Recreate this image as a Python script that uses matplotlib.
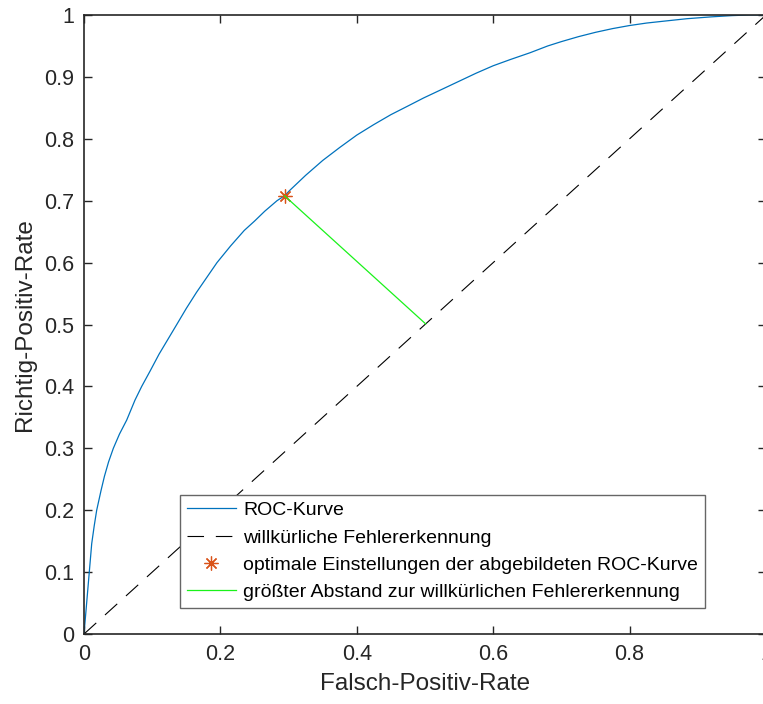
import numpy as np
import matplotlib.pyplot as plt

plt.rcParams['font.family'] = ['Liberation Sans', 'DejaVu Sans']
plt.rcParams['lines.scale_dashes'] = False

# ROC curve
fpr = [0.0, 0.0113, 0.015, 0.0186, 0.025, 0.030, 0.036, 0.043, 0.052, 0.0626,
       0.0748, 0.0846, 0.097, 0.110, 0.123, 0.136, 0.150, 0.165, 0.180, 0.195,
       0.215, 0.235, 0.250, 0.265, 0.283, 0.294, 0.302, 0.325, 0.350, 0.375,
       0.400, 0.425, 0.450, 0.475, 0.498, 0.525, 0.550, 0.575, 0.600, 0.625,
       0.654, 0.680, 0.700, 0.725, 0.750, 0.775, 0.800, 0.825, 0.850, 0.884,
       0.920, 0.950, 0.975, 1.0]
tpr = [0.0, 0.146, 0.175, 0.200, 0.232, 0.255, 0.278, 0.300, 0.323, 0.3456,
       0.378, 0.400, 0.425, 0.452, 0.476, 0.500, 0.526, 0.552, 0.576, 0.600,
       0.627, 0.652, 0.667, 0.683, 0.700, 0.708, 0.717, 0.741, 0.765, 0.786,
       0.806, 0.823, 0.839, 0.853, 0.866, 0.880, 0.893, 0.906, 0.918, 0.928,
       0.939, 0.950, 0.957, 0.965, 0.972, 0.978, 0.983, 0.987, 0.990, 0.994,
       0.997, 0.999, 1.0, 1.0]

# optimal point and its projection onto the diagonal
opt_x, opt_y = 0.294, 0.708
proj_x, proj_y = 0.501, 0.501

tick_vals = [0, 0.2, 0.4, 0.6, 0.8, 1]
tick_labels = ['0', '0.2', '0.4', '0.6', '0.8', '1']
ytick_vals = [0, 0.1, 0.2, 0.3, 0.4, 0.5, 0.6, 0.7, 0.8, 0.9, 1]
ytick_labels = ['0', '0.1', '0.2', '0.3', '0.4', '0.5', '0.6', '0.7', '0.8', '0.9', '1']

fig = plt.figure(figsize=(7.63, 7.04), dpi=100)
ax = fig.add_axes([0.1101, 0.0994, 0.8938, 0.8793])

ax.plot(fpr, tpr, color=(0, 0.447, 0.741), lw=0.9, label='ROC-Kurve')
ax.plot([0, 1], [0, 1], color='black', lw=0.8, dashes=(11.9, 8.5),
        label='willkürliche Fehlererkennung')
ax.plot([opt_x], [opt_y], linestyle='none', marker=(8, 2, 0), ms=10,
        mec=(0.85, 0.325, 0.098), mew=0.9,
        label='optimale Einstellungen der abgebildeten ROC-Kurve')
ax.plot([opt_x, proj_x], [opt_y, proj_y], color=(0.1, 0.95, 0.1), lw=0.9,
        label='größter Abstand zur willkürlichen Fehlererkennung')

ax.set_xlim(0, 1)
ax.set_ylim(0, 1)
ax.set_xticks(tick_vals)
ax.set_xticklabels(tick_labels)
ax.set_yticks(ytick_vals)
ax.set_yticklabels(ytick_labels)

dark = (0.15, 0.15, 0.15)
ax.tick_params(direction='in', length=5.5, width=1.0, colors=dark,
               labelsize=15.5, top=True, right=True, pad=7)
for s in ax.spines.values():
    s.set_color(dark)
    s.set_linewidth(1.2)

ax.set_xlabel('Falsch-Positiv-Rate', fontsize=17.5, color=dark, labelpad=6)
ax.set_ylabel('Richtig-Positiv-Rate', fontsize=17.5, color=dark, labelpad=6)

leg = ax.legend(loc='lower left', bbox_to_anchor=(0.141, 0.042), fontsize=14,
                fancybox=False, framealpha=1, edgecolor=(0.4, 0.4, 0.4),
                handlelength=2.5, handletextpad=0.4, borderpad=0.35,
                labelspacing=0.5, borderaxespad=0)
leg.get_frame().set_linewidth(1.0)

fig.savefig('out.png', dpi=100)
